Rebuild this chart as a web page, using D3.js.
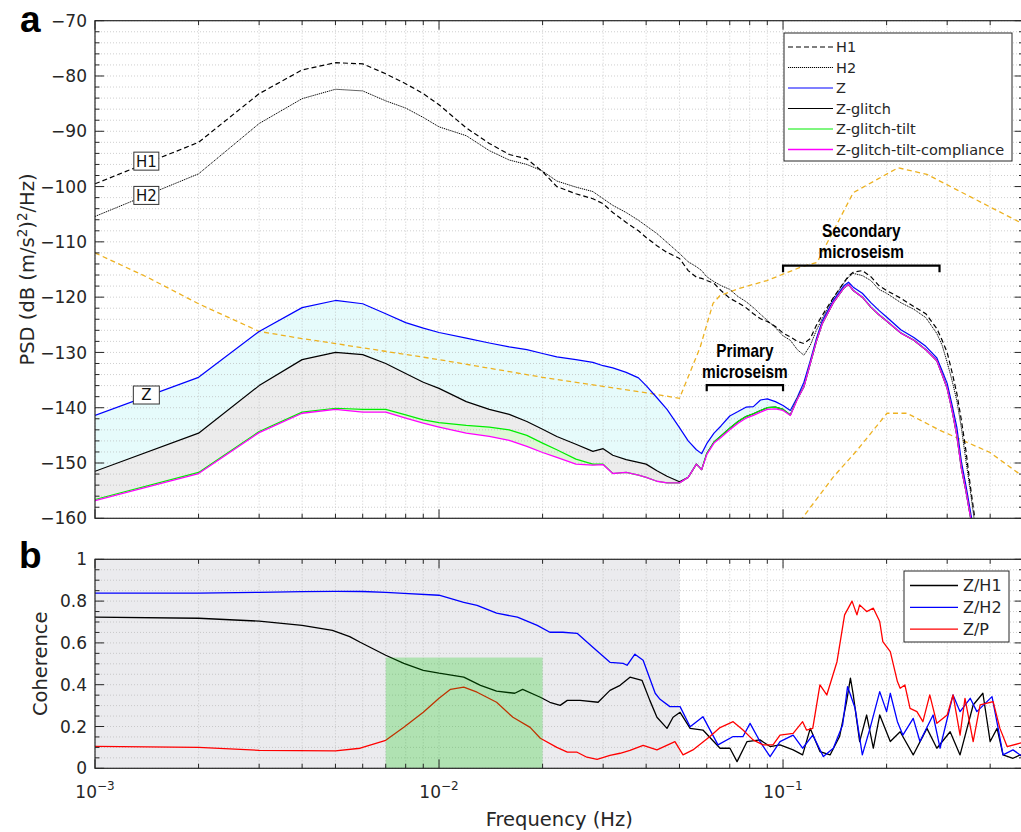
<!DOCTYPE html>
<html><head><meta charset="utf-8">
<script src="https://cdn.jsdelivr.net/npm/d3@7"></script>
<style>body{margin:0;background:#fff}svg{display:block}</style>
</head><body>
<svg id="c" width="1021" height="832"></svg>
<script>
// ---------------- DATA ----------------
// Panel a: shared frequency grid (Hz)
const fA = [0.001,0.002,0.003,0.004,0.005,0.006,0.007,0.008,0.009,0.010,0.012,0.014,0.016,0.018,0.020,0.022,0.025,0.028,0.030,0.032,0.035,0.038,0.040,0.043,0.046,0.050,0.053,0.056,0.058,0.060,0.063,0.066,0.070,0.074,0.078,0.082,0.086,0.090,0.095,0.100,0.105,0.110,0.115,0.120,0.125,0.130,0.140,0.150,0.155,0.160,0.170,0.180,0.190,0.200,0.220,0.240,0.260,0.280,0.290,0.300,0.310,0.320,0.330,0.340,0.350,0.360,0.370];
const psdH1 = [-99.5,-92.0,-83.2,-78.9,-77.6,-77.8,-79.6,-81.4,-83.2,-85.2,-89.4,-92.2,-94.2,-95.0,-97.3,-100.0,-101.3,-102.2,-103.1,-104.7,-106.5,-108.0,-109.2,-110.7,-111.9,-113.0,-115.2,-116.4,-116.6,-117.0,-117.5,-118.8,-120.2,-121.0,-121.9,-123.0,-123.9,-124.4,-125.3,-126.5,-127.2,-128.0,-128.4,-127.5,-125.1,-123.3,-120.1,-117.4,-116.2,-115.5,-115.2,-116.3,-117.9,-118.8,-120.2,-121.7,-123.0,-125.7,-127.8,-130.0,-133.6,-137.4,-142.3,-147.7,-154.0,-159.5,-166.0];
const psdH2 = [-105.4,-97.7,-88.6,-84.1,-82.4,-82.7,-84.5,-85.8,-87.5,-89.2,-90.8,-93.5,-95.2,-96.0,-97.2,-99.0,-100.1,-100.9,-102.2,-103.4,-104.7,-106.1,-107.1,-108.5,-110.1,-112.1,-113.6,-114.5,-115.2,-116.3,-117.2,-117.9,-118.6,-119.9,-120.8,-121.9,-123.1,-124.2,-125.5,-127.0,-127.8,-129.5,-130.5,-128.7,-126.0,-123.9,-120.2,-117.5,-116.4,-115.7,-116.1,-117.0,-118.6,-119.3,-121.0,-122.2,-123.7,-126.6,-128.7,-131.8,-135.1,-138.7,-143.7,-149.5,-154.9,-160.5,-166.0];
const psdZ = [-141.4,-134.5,-126.2,-121.9,-120.6,-121.2,-123.0,-124.6,-125.6,-126.4,-127.4,-128.3,-129.0,-129.5,-130.2,-130.8,-131.3,-131.8,-132.4,-132.8,-133.6,-134.6,-136.0,-138.2,-140.3,-143.6,-146.0,-147.6,-148.3,-146.5,-144.6,-143.3,-141.5,-140.7,-139.9,-139.8,-138.6,-138.4,-138.9,-139.6,-140.5,-138.1,-135.4,-131.5,-127.5,-124.3,-120.6,-118.0,-117.3,-118.2,-119.3,-121.0,-122.4,-123.6,-125.9,-127.3,-128.9,-131.0,-133.3,-135.6,-139.5,-143.5,-149.8,-154.0,-158.5,-163.0,-168.0];
const psdZglitch = [-151.5,-144.6,-136.0,-131.3,-130.0,-130.4,-132.0,-133.8,-135.4,-136.5,-138.9,-140.3,-141.2,-142.5,-143.9,-145.2,-146.6,-147.9,-147.4,-148.6,-149.4,-149.9,-150.2,-151.4,-152.4,-153.4,-152.6,-150.2,-151.2,-148.3,-146.2,-145.1,-143.7,-142.5,-141.6,-141.1,-140.5,-140.0,-139.9,-140.3,-141.3,-138.4,-136.2,-132.0,-128.0,-124.8,-121.0,-118.4,-117.7,-118.8,-120.0,-121.8,-123.2,-124.3,-126.5,-127.8,-129.5,-131.5,-134.0,-136.5,-140.5,-145.0,-151.0,-155.0,-159.5,-164.0,-169.0];
const psdZtilt = [-156.6,-151.7,-144.3,-140.8,-140.1,-140.3,-140.3,-141.3,-142.2,-142.7,-143.2,-143.5,-144.0,-145.0,-146.4,-147.6,-149.3,-150.2,-150.2,-151.9,-151.7,-152.2,-152.6,-153.3,-153.6,-153.6,-152.6,-150.2,-151.2,-148.3,-146.2,-145.1,-143.7,-142.5,-141.6,-141.1,-140.5,-140.0,-139.9,-140.3,-141.3,-138.4,-136.2,-132.0,-128.0,-124.8,-121.0,-118.4,-117.7,-118.8,-120.0,-121.8,-123.2,-124.3,-126.5,-127.8,-129.5,-131.5,-134.0,-136.5,-140.5,-145.0,-151.0,-155.0,-159.5,-164.0,-169.0];
const psdZcomp = [-156.8,-151.9,-144.5,-141.0,-140.3,-140.8,-140.8,-141.9,-142.8,-143.5,-144.6,-145.2,-145.9,-147.0,-148.1,-149.0,-150.2,-150.4,-150.3,-151.9,-151.7,-152.2,-152.6,-153.3,-153.6,-153.6,-152.6,-150.2,-151.2,-148.5,-146.4,-145.4,-144.0,-142.8,-141.9,-141.4,-140.8,-140.3,-140.2,-140.5,-141.4,-138.5,-136.2,-132.0,-128.0,-124.8,-121.0,-118.4,-117.7,-118.8,-120.0,-121.8,-123.2,-124.3,-126.5,-127.8,-129.5,-131.5,-134.0,-136.5,-140.5,-145.0,-151.0,-155.0,-159.5,-164.0,-169.0];
// Noise models (orange dashed)
const nhnmF  = [0.001,0.00142,0.002,0.003,0.004,0.005,0.010,0.020,0.041,0.050,0.0574,0.0626,0.0656,0.0747,0.0898,0.1123,0.1256,0.160,0.216,0.262,0.5];
const nhnmDB = [-112.0,-116.4,-121.2,-126.2,-127.5,-128.4,-131.3,-134.5,-137.4,-138.3,-129.1,-121.1,-119.7,-118.4,-117.0,-114.6,-113.7,-101.1,-96.6,-97.8,-106.8];
const nlnmF  = [0.1044,0.1143,0.1397,0.1641,0.2006,0.2294,0.2861,0.3998,0.5];
const nlnmDB = [-162.9,-159.8,-152.6,-147.7,-141.0,-141.0,-144.1,-148.1,-152.5];
const legendA = ["H1","H2","Z","Z-glitch","Z-glitch-tilt","Z-glitch-tilt-compliance"];
const tagLabels = ["H1","H2","Z"];
const tagF = [0.00141, 0.00141, 0.00141];
const tagDB = [-95.4, -101.6, -137.7];
const bandPrimary = [0.06, 0.1];
const bandSecondary = [0.1, 0.285];
const yTicksA = [-70,-80,-90,-100,-110,-120,-130,-140,-150,-160];

// Panel b: coherence
const fZH1 = [0.001,0.002,0.003,0.004,0.0049,0.0055,0.0059,0.007,0.0079,0.009,0.01,0.0118,0.0132,0.0147,0.0166,0.0175,0.0197,0.021,0.0225,0.0236,0.0257,0.029,0.0314,0.0336,0.0359,0.0389,0.041,0.043,0.046,0.0479,0.0502,0.0537,0.0585,0.0656,0.0701,0.0735,0.0786,0.0857,0.0917,0.098,0.107,0.114,0.12,0.128,0.137,0.146,0.153,0.157,0.16,0.167,0.175,0.183,0.191,0.205,0.219,0.239,0.262,0.28,0.306,0.327,0.357,0.381,0.40,0.419,0.436,0.466,0.489,0.5];
const cohZH1 = [0.723,0.718,0.704,0.684,0.66,0.63,0.603,0.541,0.502,0.469,0.455,0.436,0.397,0.369,0.359,0.378,0.34,0.316,0.301,0.325,0.325,0.316,0.373,0.397,0.436,0.421,0.325,0.244,0.191,0.244,0.268,0.191,0.183,0.096,0.096,0.032,0.128,0.136,0.104,0.112,0.088,0.064,0.191,0.08,0.064,0.152,0.319,0.431,0.351,0.128,0.255,0.096,0.255,0.128,0.175,0.064,0.191,0.096,0.175,0.064,0.303,0.359,0.128,0.191,0.064,0.048,0.064,0.05];
const fZH2 = [0.001,0.002,0.003,0.004,0.005,0.006,0.007,0.0079,0.01,0.0118,0.0129,0.0147,0.0169,0.0193,0.021,0.0229,0.0252,0.028,0.0314,0.0343,0.0352,0.0371,0.0392,0.0425,0.0439,0.0469,0.0502,0.0537,0.0585,0.0647,0.0716,0.0765,0.0802,0.0857,0.0917,0.098,0.107,0.114,0.122,0.131,0.14,0.149,0.154,0.162,0.17,0.179,0.191,0.20,0.205,0.215,0.223,0.239,0.25,0.273,0.286,0.312,0.327,0.35,0.366,0.405,0.422,0.436,0.466,0.489,0.5];
const cohZH2 = [0.838,0.838,0.842,0.845,0.847,0.846,0.842,0.837,0.828,0.794,0.78,0.742,0.723,0.684,0.651,0.651,0.646,0.579,0.507,0.502,0.493,0.546,0.517,0.359,0.33,0.295,0.295,0.199,0.247,0.112,0.152,0.152,0.215,0.128,0.056,0.128,0.159,0.096,0.159,0.056,0.096,0.207,0.391,0.287,0.064,0.191,0.367,0.271,0.359,0.223,0.159,0.239,0.128,0.255,0.096,0.351,0.271,0.335,0.271,0.343,0.191,0.064,0.088,0.064,0.06];
const fZP = [0.001,0.002,0.003,0.005,0.0059,0.007,0.0079,0.009,0.01,0.0108,0.0118,0.0129,0.0147,0.0164,0.0184,0.0197,0.022,0.0236,0.0252,0.0269,0.0288,0.0314,0.0336,0.0359,0.0392,0.043,0.0485,0.0512,0.0547,0.0613,0.0656,0.0716,0.0765,0.0818,0.0875,0.0935,0.098,0.107,0.114,0.117,0.122,0.128,0.134,0.1435,0.151,0.1587,0.164,0.167,0.175,0.183,0.191,0.195,0.205,0.215,0.219,0.226,0.234,0.245,0.255,0.267,0.28,0.30,0.312,0.327,0.338,0.357,0.374,0.408,0.427,0.448,0.489,0.5];
const cohZP = [0.105,0.10,0.086,0.083,0.096,0.134,0.196,0.268,0.335,0.378,0.388,0.364,0.316,0.244,0.196,0.144,0.10,0.077,0.077,0.053,0.043,0.062,0.072,0.086,0.11,0.088,0.128,0.064,0.088,0.152,0.195,0.223,0.183,0.136,0.112,0.112,0.159,0.167,0.223,0.183,0.191,0.399,0.351,0.51,0.734,0.80,0.734,0.782,0.75,0.766,0.702,0.606,0.558,0.415,0.383,0.399,0.287,0.271,0.223,0.351,0.215,0.255,0.351,0.159,0.335,0.128,0.303,0.319,0.191,0.104,0.12,0.13];
const legendB = ["Z/H1","Z/H2","Z/P"];
const yTicksB = [0,0.2,0.4,0.6,0.8,1];
const xTickDecades = [-3,-2,-1];
const glitchBand = [0.001, 0.05];   // grey shaded band
const tiltBand = [0.007, 0.02];     // green box (freq)
const tiltBandTop = 0.53;           // green box top (coherence)

// ---------------- LAYOUT ----------------
const FONT = "'DejaVu Sans', sans-serif";
const BOLD = "'Liberation Sans', Arial, sans-serif";
const AX = "#262626";
const L = 95, R = 1023.5;
const aTop = 20.7, aBot = 518.3, bTop = 559.3, bBot = 768.3;
const svg = d3.select("#c");
const x = d3.scaleLog().domain([0.001, 0.5]).range([L, R]);
const yA = d3.scaleLinear().domain([-160, -70]).range([aBot, aTop]);
const yB = d3.scaleLinear().domain([0, 1]).range([bBot, bTop]);

const defs = svg.append("defs");
defs.append("clipPath").attr("id","clipA").append("rect").attr("x",L).attr("y",aTop).attr("width",R-L).attr("height",aBot-aTop);
defs.append("clipPath").attr("id","clipB").append("rect").attr("x",L).attr("y",bTop).attr("width",R-L).attr("height",bBot-bTop);

const minorX = [];
[0.001,0.01,0.1].forEach(d => { for (let k=1;k<=9;k++){ const f=+(k*d).toPrecision(3); if (f<=0.5) minorX.push(f);} });

function grid(g, yS, top, bot, yMinor) {
  const gg = g.append("g").attr("stroke","#b5b5b5").attr("stroke-width",0.8).attr("stroke-dasharray","1,2").attr("opacity",0.8);
  minorX.forEach(f => gg.append("line").attr("x1",x(f)).attr("x2",x(f)).attr("y1",top).attr("y2",bot));
  yMinor.forEach(v => gg.append("line").attr("x1",L).attr("x2",R).attr("y1",yS(v)).attr("y2",yS(v)));
}
function frame(g, yS, top, bot, yMajor, yMinor) {
  const t = g.append("g").attr("stroke",AX).attr("stroke-width",1);
  minorX.forEach(f => {
    const major = Math.abs(Math.log10(f) - Math.round(Math.log10(f))) < 1e-6;
    const len = major ? 9 : 4.5;
    t.append("line").attr("x1",x(f)).attr("x2",x(f)).attr("y1",bot).attr("y2",bot-len);
    t.append("line").attr("x1",x(f)).attr("x2",x(f)).attr("y1",top).attr("y2",top+len);
  });
  yMinor.forEach(v => {
    const major = yMajor.some(m => Math.abs(m-v) < 1e-9);
    const len = major ? 9 : 4.5;
    t.append("line").attr("x1",L).attr("x2",L+len).attr("y1",yS(v)).attr("y2",yS(v));
    t.append("line").attr("x1",R).attr("x2",R-len).attr("y1",yS(v)).attr("y2",yS(v));
  });
  g.append("rect").attr("x",L).attr("y",top).attr("width",R-L).attr("height",bot-top)
    .attr("fill","none").attr("stroke",AX).attr("stroke-width",1.2);
}

// ---------------- PANEL A ----------------
const gA = svg.append("g");
const idx = d3.range(fA.length);
const plotA = gA.append("g").attr("clip-path","url(#clipA)");
const area = (up, lo) => d3.area().x(i => x(fA[i])).y0(i => yA(lo[i])).y1(i => yA(Math.max(up[i], lo[i])))(idx);
plotA.append("path").attr("d", area(psdZ, psdZglitch)).attr("fill","#e6fbfb");
plotA.append("path").attr("d", area(psdZglitch, psdZtilt)).attr("fill","#ececec");
plotA.append("path").attr("d", area(psdZtilt, psdZcomp)).attr("fill","#dff8d6");
const yMinorA = d3.range(-160, -69, 2);
grid(gA, yA, aTop, aBot, yMinorA);

const lineA = (fs, vs) => d3.line().x((d,i) => x(fs[i])).y(d => yA(d))(vs);
const plotA2 = gA.append("g").attr("clip-path","url(#clipA)");
plotA2.append("path").attr("d", lineA(nhnmF, nhnmDB)).attr("fill","none").attr("stroke","#EDB120").attr("stroke-width",1.3).attr("stroke-dasharray","5,3.5");
plotA2.append("path").attr("d", lineA(nlnmF, nlnmDB)).attr("fill","none").attr("stroke","#EDB120").attr("stroke-width",1.3).attr("stroke-dasharray","5,3.5");
const seriesA = [
  {v: psdH1, c: "#000", w: 1.2, dash: "5,3"},
  {v: psdH2, c: "#000", w: 1.0, dash: "1.2,0.8"},
  {v: psdZ, c: "#0000ff", w: 1.2, dash: null},
  {v: psdZglitch, c: "#000", w: 1.2, dash: null},
  {v: psdZtilt, c: "#00ee00", w: 1.2, dash: null},
  {v: psdZcomp, c: "#ff00ff", w: 1.3, dash: null}
];
seriesA.forEach(s => {
  plotA2.append("path").attr("d", lineA(fA, s.v)).attr("fill","none").attr("stroke",s.c)
    .attr("stroke-width",s.w).attr("stroke-dasharray",s.dash).attr("stroke-linejoin","round");
});
frame(gA, yA, aTop, aBot, yTicksA, yMinorA);

// y tick labels A
yTicksA.forEach(v => {
  gA.append("text").attr("x",87).attr("y",yA(v)).attr("dy","0.36em").attr("text-anchor","end")
    .attr("font-family",FONT).attr("font-size",17).attr("fill",AX).text(String(v).replace("-","\u2212"));
});
// y label A
const ylabA = gA.append("text").attr("transform",`translate(34,${(aTop+aBot)/2}) rotate(-90)`)
  .attr("text-anchor","middle").attr("font-family",FONT).attr("font-size",19.5).attr("fill",AX);
ylabA.append("tspan").text("PSD (dB (m/s");
ylabA.append("tspan").attr("dy",-7).attr("font-size",13.5).text("2");
ylabA.append("tspan").attr("dy",7).text(")");
ylabA.append("tspan").attr("dy",-7).attr("font-size",13.5).text("2");
ylabA.append("tspan").attr("dy",7).text("/Hz)");

// Curve tags
tagLabels.forEach((label, i) => {
  const cx = x(tagF[i]), cy = yA(tagDB[i]), w = label.length > 1 ? 25 : 26;
  gA.append("rect").attr("x",cx-w/2).attr("y",cy-9).attr("width",w).attr("height",18)
    .attr("fill","#fff").attr("stroke","#333").attr("stroke-width",1);
  gA.append("text").attr("x",cx).attr("y",cy).attr("dy","0.36em").attr("text-anchor","middle")
    .attr("font-family",FONT).attr("font-size",15).attr("fill","#111").text(label);
});

// Microseism brackets
function bracket(band, dbY, dbEnd, lines, textY) {
  const x1 = x(band[0]), x2 = x(band[1]);
  gA.append("path").attr("d",`M${x1},${yA(dbEnd)}V${yA(dbY)}H${x2}V${yA(dbEnd)}`)
    .attr("fill","none").attr("stroke","#000").attr("stroke-width",2.2);
  lines.forEach((t,i) => gA.append("text")
    .attr("transform",`translate(${(x1+x2)/2},${textY[i]}) scale(0.88,1)`).attr("text-anchor","middle")
    .attr("font-family",BOLD).attr("font-weight","bold").attr("font-size",17.5).attr("fill","#000").text(t));
}
bracket(bandSecondary, -114.3, -115.5, ["Secondary","microseism"], [237, 258]);
bracket(bandPrimary, -135.9, -137.0, ["Primary","microseism"], [357, 378]);

// Legend A
const lgA = gA.append("g");
lgA.append("rect").attr("x",784).attr("y",33).attr("width",228).attr("height",128)
  .attr("fill","#fff").attr("stroke",AX).attr("stroke-width",1);
legendA.forEach((name,i) => {
  const s = seriesA[i], yy = 47 + i*20.5;
  lgA.append("line").attr("x1",788).attr("x2",833).attr("y1",yy).attr("y2",yy).attr("stroke",s.c)
    .attr("stroke-width",s.w).attr("stroke-dasharray",s.dash);
  lgA.append("text").attr("x",836).attr("y",yy).attr("dy","0.36em").attr("font-family",FONT)
    .attr("font-size",14.5).attr("fill",AX).text(name);
});

// ---------------- PANEL B ----------------
const gB = svg.append("g");
gB.append("rect").attr("x",x(glitchBand[0])).attr("y",bTop).attr("width",x(glitchBand[1])-x(glitchBand[0]))
  .attr("height",bBot-bTop).attr("fill","#ebebee");
const yMinorB = d3.range(0, 1.0001, 0.05).map(v => +v.toFixed(2));
grid(gB, yB, bTop, bBot, yMinorB);
const plotB = gB.append("g").attr("clip-path","url(#clipB)");
const lineB = (fs, vs) => d3.line().x((d,i) => x(fs[i])).y(d => yB(d))(vs);
const seriesB = [
  {f: fZH1, v: cohZH1, c: "#000"},
  {f: fZH2, v: cohZH2, c: "#0000ff"},
  {f: fZP, v: cohZP, c: "#ff0000"}
];
seriesB.forEach(s => plotB.append("path").attr("d", lineB(s.f, s.v)).attr("fill","none")
  .attr("stroke",s.c).attr("stroke-width",1.3).attr("stroke-linejoin","round"));
gB.append("rect").attr("x",x(tiltBand[0])).attr("y",yB(tiltBandTop)).attr("width",x(tiltBand[1])-x(tiltBand[0]))
  .attr("height",yB(0)-yB(tiltBandTop)).attr("fill","rgb(0,200,0)").attr("opacity",0.25);
frame(gB, yB, bTop, bBot, yTicksB, yMinorB);

yTicksB.forEach(v => {
  gB.append("text").attr("x",87).attr("y",yB(v)).attr("dy","0.36em").attr("text-anchor","end")
    .attr("font-family",FONT).attr("font-size",17).attr("fill",AX).text(String(v));
});
xTickDecades.forEach(p => {
  const t = gB.append("text").attr("x",x(Math.pow(10,p))).attr("y",798).attr("text-anchor","middle")
    .attr("font-family",FONT).attr("font-size",17).attr("fill",AX);
  t.append("tspan").text("10");
  t.append("tspan").attr("dy",-8).attr("font-size",12).text(String(p).replace("-","\u2212"));
});
gB.append("text").attr("x",(L+R)/2).attr("y",826).attr("text-anchor","middle").attr("font-family",FONT)
  .attr("font-size",19.5).attr("fill",AX).text("Frequency (Hz)");
gB.append("text").attr("transform",`translate(47,${(bTop+bBot)/2}) rotate(-90)`).attr("text-anchor","middle")
  .attr("font-family",FONT).attr("font-size",19.5).attr("fill",AX).text("Coherence");

// Legend B
const lgB = gB.append("g");
lgB.append("rect").attr("x",904).attr("y",571).attr("width",105).attr("height",71)
  .attr("fill","#fff").attr("stroke",AX).attr("stroke-width",1);
legendB.forEach((name,i) => {
  const yy = 585.5 + i*21.8;
  lgB.append("line").attr("x1",910).attr("x2",958).attr("y1",yy).attr("y2",yy).attr("stroke",seriesB[i].c).attr("stroke-width",1.3);
  lgB.append("text").attr("x",963).attr("y",yy).attr("dy","0.36em").attr("font-family",FONT)
    .attr("font-size",16).attr("fill",AX).text(name);
});

// Panel letters
svg.append("text").attr("x",20).attr("y",32).attr("font-family",BOLD).attr("font-weight","bold").attr("font-size",37).attr("fill","#000").text("a");
svg.append("text").attr("x",19).attr("y",568).attr("font-family",BOLD).attr("font-weight","bold").attr("font-size",37).attr("fill","#000").text("b");
</script></body></html>
